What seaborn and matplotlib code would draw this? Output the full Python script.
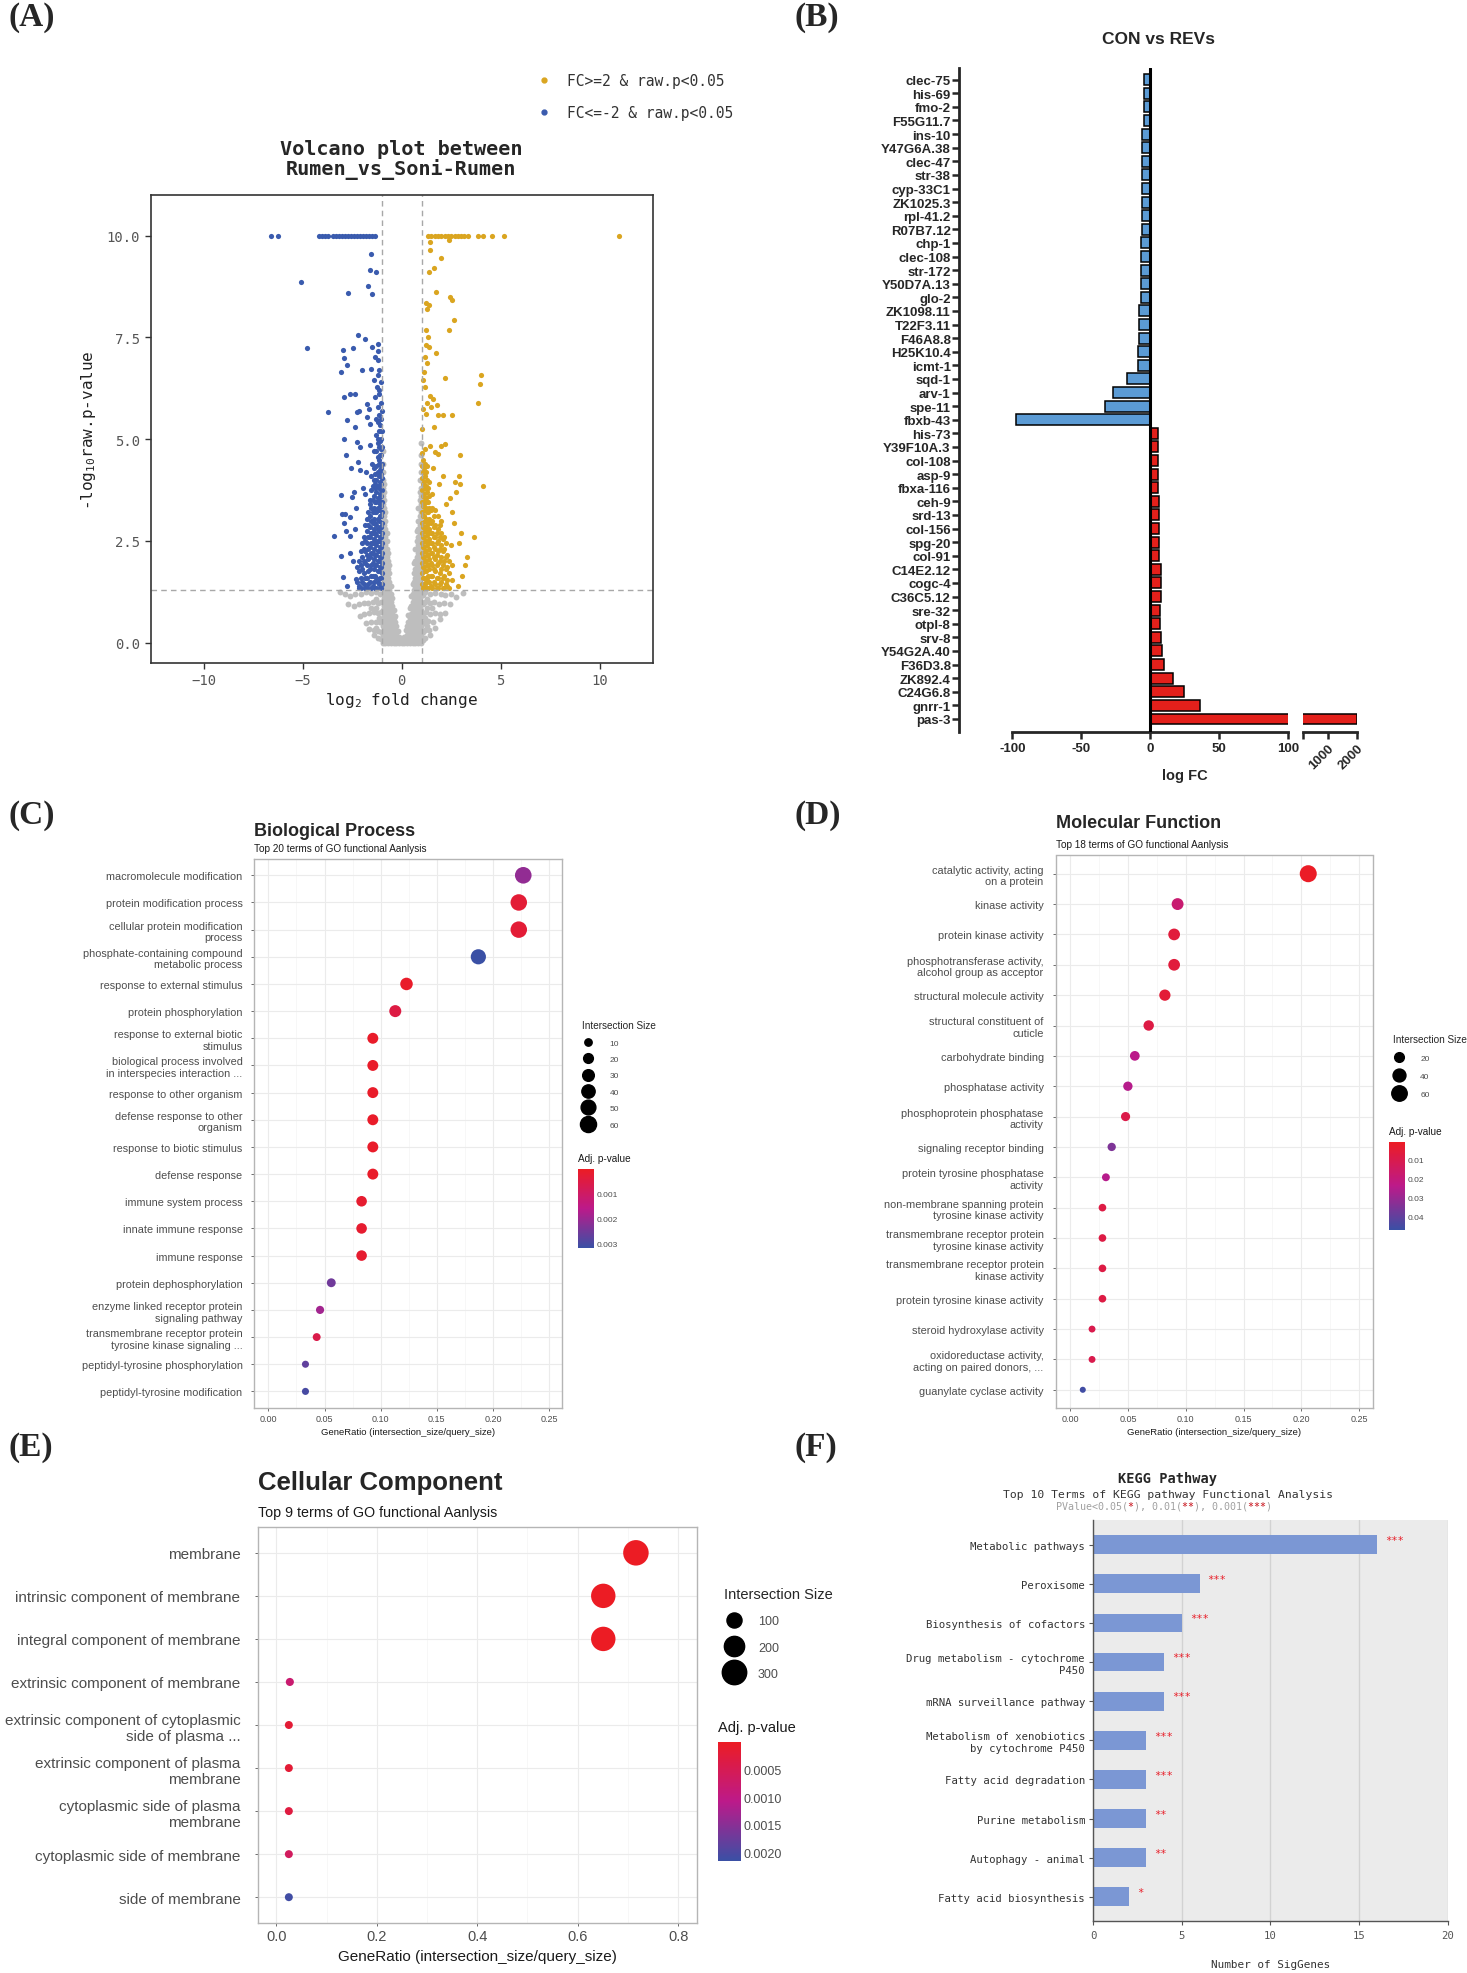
import numpy as np
import pandas as pd
import seaborn as sns
from matplotlib import pyplot as plt
from matplotlib.colors import LinearSegmentedColormap, Normalize
from matplotlib.cm import ScalarMappable
from matplotlib.lines import Line2D

# ---------------- (A) volcano plot ----------------
# points capped at -log10 p = 10
blue_top = [-6.6, -6.25, -4.2, -4.05, -3.9, -3.75, -3.45, -3.3, -3.15, -3.0, -2.85,
            -2.7, -2.55, -2.4, -2.25, -2.1, -1.95, -1.8, -1.65, -1.5, -1.35]
orange_top = [1.32, 1.49, 1.66, 1.83, 2.0, 2.17, 2.34, 2.5, 2.67, 2.84, 3.0, 3.17,
              3.34, 3.85, 4.1, 4.57, 5.16, 11.0]

blue_scatter = [(-1.57, 9.55), (-1.6, 9.15), (-1.32, 9.11), (-5.09, 8.86), (-1.69, 8.77),
                (-2.7, 8.58), (-1.51, 8.56), (-2.23, 7.57), (-1.86, 7.45), (-4.8, 7.24),
                (-2.95, 7.2), (-2.46, 7.24), (-1.21, 7.34), (-1.51, 7.27), (-1.18, 7.17),
                (-2.92, 7.0), (-2.75, 6.83), (-3.07, 6.64), (-1.99, 6.71), (-1.35, 7.02),
                (-1.21, 6.94), (-1.55, 6.72), (-1.18, 6.57), (-1.4, 6.46), (-1.27, 6.28),
                (-1.13, 6.2), (-2.9, 6.03), (-2.64, 6.11), (-2.36, 6.11), (-3.74, 5.68),
                (-2.25, 5.66), (-2.15, 5.7), (-1.78, 5.87), (-1.66, 5.75), (-1.35, 6.03),
                (-1.21, 5.79), (-2.78, 5.46), (-2.36, 5.3), (-1.78, 5.54), (-1.6, 5.38),
                (-1.18, 5.42), (-1.06, 5.21), (-2.92, 5.0), (-2.25, 4.92), (-2.12, 4.8),
                (-2.83, 4.61), (-1.62, 4.85), (-1.4, 4.7), (-1.2, 5.0), (-1.05, 4.75),
                (-2.55, 4.28), (-2.2, 4.45), (-2.12, 4.25), (-1.8, 4.2), (-1.5, 4.4),
                (-1.15, 4.5), (-1.03, 4.15), (-3.07, 3.62), (-2.52, 3.58), (-2.4, 3.7),
                (-1.95, 3.8), (-1.88, 3.65), (-1.62, 3.5), (-1.37, 3.9), (-1.05, 3.75),
                (-3.0, 3.16), (-2.85, 3.16), (-2.64, 3.08), (-2.3, 3.32), (-2.92, 2.93),
                (-2.8, 2.75), (-2.6, 2.63), (-3.43, 2.61), (-2.36, 2.79), (-3.07, 2.12),
                (-2.6, 2.21), (-2.45, 2.01), (-2.95, 1.62), (-2.78, 1.38), (-2.3, 1.56),
                (-2.18, 1.4)]
blue_cols = {
    -1.01: [1.45, 1.7, 1.95, 2.2, 2.45, 2.7, 2.95, 3.2, 3.45, 3.75, 4.05, 4.4, 4.8, 5.2, 5.7],
    -1.05: [1.35, 1.6, 1.85, 2.1, 2.35, 2.6, 2.85, 3.1, 3.35, 3.6, 3.9, 4.3, 4.6, 5.0, 5.5, 5.9, 6.4],
    -1.1: [1.35, 1.6, 1.85, 2.1, 2.35, 2.6, 2.85, 3.1, 3.4, 3.65, 3.95, 4.25, 4.6, 4.95, 5.35],
    -1.15: [1.45, 1.75, 2.0, 2.25, 2.5, 2.75, 3.0, 3.25, 3.5, 3.8, 4.1, 4.4, 4.8, 5.2, 5.6, 6.1, 6.7],
    -1.22: [1.5, 1.75, 2.0, 2.25, 2.5, 2.8, 3.05, 3.3, 3.55, 3.85, 4.2, 4.55, 4.9],
    -1.28: [1.35, 1.6, 1.9, 2.15, 2.4, 2.65, 2.9, 3.2, 3.45, 3.7, 4.0, 4.35, 4.7, 5.1, 5.5],
    -1.34: [1.35, 1.65, 1.9, 2.15, 2.45, 2.7, 2.95, 3.2, 3.45, 3.8, 4.15],
    -1.4: [1.5, 1.8, 2.05, 2.3, 2.55, 2.8, 3.05, 3.3, 3.6, 4.0, 4.3],
    -1.47: [1.4, 1.65, 1.95, 2.2, 2.45, 2.7, 2.95, 3.2, 3.5, 3.85],
    -1.55: [1.35, 1.65, 1.9, 2.2, 2.45, 2.7, 3.0, 3.3, 3.75, 4.1],
    -1.62: [1.5, 1.8, 2.1, 2.35, 2.6, 2.85, 3.1, 3.4],
    -1.7: [1.45, 1.75, 2.05, 2.3, 2.6, 2.9, 3.2],
    -1.78: [1.35, 1.6, 1.9, 2.15, 2.45, 2.75, 3.05],
    -1.85: [1.35, 1.6, 1.95, 2.25, 2.5, 2.9],
    -1.92: [1.45, 1.7, 2.0, 2.3, 2.6],
    -2.0: [1.5, 1.8, 2.1, 2.45],
    -2.08: [1.35, 1.6, 1.9, 2.25],
    -2.15: [1.35, 1.75, 2.0],
    -2.25: [1.5, 1.85],
}

orange_scatter = [(2.38, 9.9), (1.41, 9.84), (1.41, 9.64), (1.99, 9.46), (1.36, 9.11),
                  (1.61, 9.21), (1.71, 8.62), (2.42, 8.5), (2.53, 8.41), (1.24, 8.35),
                  (1.36, 8.29), (1.29, 8.21), (2.62, 7.92), (2.38, 7.69), (1.24, 7.68),
                  (1.32, 7.51), (1.24, 7.31), (1.36, 7.27), (1.15, 7.02), (1.29, 6.86),
                  (1.12, 6.65), (1.07, 6.45), (1.15, 6.28), (1.71, 7.12), (2.17, 6.5),
                  (4.02, 6.58), (3.97, 6.35), (3.85, 5.9), (1.41, 6.05), (1.57, 5.98),
                  (1.29, 5.9), (1.07, 5.75), (1.24, 5.62), (1.49, 5.8), (1.78, 5.85),
                  (1.83, 5.6), (2.08, 5.6), (2.55, 5.6), (1.63, 5.31), (1.02, 5.26),
                  (1.44, 4.84), (1.96, 4.84), (2.17, 4.88), (1.69, 4.68), (1.83, 4.64),
                  (2.92, 4.61), (4.1, 3.86), (2.9, 4.1), (2.95, 3.9), (2.7, 3.95),
                  (2.75, 3.7), (3.65, 2.6), (2.98, 2.7), (2.5, 2.4), (2.87, 2.45),
                  (3.28, 2.1), (3.22, 1.9), (3.05, 1.65), (2.3, 1.4), (2.83, 1.4),
                  (2.62, 2.95), (2.45, 3.55), (2.55, 3.2), (2.25, 3.4), (1.9, 3.9),
                  (2.1, 4.1), (1.6, 4.3)]
orange_cols = {
    1.01: [1.45, 1.7, 1.95, 2.2, 2.45, 2.7, 2.95, 3.2, 3.45, 3.75, 4.05, 4.35, 4.65],
    1.05: [1.35, 1.6, 1.85, 2.1, 2.35, 2.6, 2.85, 3.1, 3.35, 3.6, 3.9, 4.2, 4.5],
    1.1: [1.35, 1.6, 1.85, 2.1, 2.35, 2.6, 2.85, 3.1, 3.4, 3.65, 3.95, 4.3],
    1.15: [1.45, 1.75, 2.0, 2.25, 2.5, 2.75, 3.0, 3.25, 3.5, 3.8, 4.1, 4.4, 4.75],
    1.22: [1.5, 1.75, 2.0, 2.25, 2.5, 2.8, 3.05, 3.3, 3.55, 3.85, 4.2],
    1.28: [1.35, 1.6, 1.9, 2.15, 2.4, 2.65, 2.9, 3.2, 3.45, 3.7, 4.0, 4.35],
    1.34: [1.35, 1.65, 1.9, 2.15, 2.45, 2.7, 2.95, 3.2, 3.45, 3.8],
    1.4: [1.5, 1.8, 2.05, 2.3, 2.55, 2.8, 3.05, 3.3, 3.6, 3.95],
    1.47: [1.4, 1.65, 1.95, 2.2, 2.45, 2.7, 2.95, 3.25],
    1.55: [1.35, 1.65, 1.9, 2.2, 2.45, 2.7, 3.0, 3.3, 3.65],
    1.62: [1.5, 1.8, 2.1, 2.35, 2.6, 2.85, 3.1],
    1.7: [1.45, 1.75, 2.05, 2.3, 2.6, 2.9, 3.25],
    1.78: [1.35, 1.6, 1.9, 2.15, 2.45, 2.7],
    1.85: [1.35, 1.6, 1.95, 2.25, 2.5, 2.8, 3.1],
    1.92: [1.45, 1.7, 2.0, 2.3, 2.6, 2.9],
    2.0: [1.5, 1.8, 2.1, 2.4, 2.7, 3.0],
    2.08: [1.35, 1.6, 1.9, 2.25, 2.55],
    2.15: [1.35, 1.65, 2.0, 2.3, 2.6],
    2.22: [1.45, 1.8, 2.1, 2.45],
    2.3: [1.55, 1.85, 2.15],
    2.4: [1.35, 1.7, 2.0],
    2.55: [1.55, 1.9],
}

gray_scatter = [(-3.1, 1.25), (-2.85, 1.2), (-2.6, 1.15), (-2.35, 1.2), (-2.05, 1.19),
                (-1.8, 1.25), (-1.55, 1.22), (-1.3, 1.25), (-1.12, 1.2), (-2.7, 0.95),
                (-2.4, 0.9), (-2.15, 0.95), (-1.9, 0.98), (-1.69, 0.98), (-1.45, 1.0),
                (-1.2, 0.98), (-1.05, 1.0), (-2.12, 0.65), (-1.9, 0.7), (-1.65, 0.72),
                (-1.42, 0.75), (-1.2, 0.72), (-1.05, 0.75), (-1.81, 0.49), (-1.55, 0.5),
                (-1.3, 0.5), (-1.1, 0.5), (-1.66, 0.33), (-1.4, 0.3), (-1.2, 0.28),
                (-1.05, 0.25), (-1.41, 0.18), (-1.2, 0.12), (-1.05, 0.08),
                (-1.3, 1.08), (-1.55, 0.85), (-1.3, 0.85), (-1.15, 0.6), (-1.3, 0.35),
                (3.1, 1.22), (2.75, 1.13), (2.5, 1.2), (2.2, 1.18), (1.99, 1.19),
                (1.7, 1.22), (1.45, 1.2), (1.2, 1.25), (1.08, 1.18), (2.42, 0.94),
                (2.15, 0.97), (1.9, 0.95), (1.65, 1.0), (1.42, 0.97), (1.2, 1.0),
                (1.05, 0.95), (2.17, 0.74), (1.92, 0.7), (1.68, 0.72), (1.45, 0.7),
                (1.22, 0.75), (1.05, 0.7), (1.91, 0.57), (1.6, 0.5), (1.35, 0.52),
                (1.12, 0.48), (1.66, 0.37), (1.4, 0.3), (1.2, 0.3), (1.05, 0.25),
                (1.41, 0.2), (1.2, 0.12), (1.05, 0.07),
                (1.3, 1.08), (1.55, 0.85), (1.3, 0.85), (1.15, 0.6), (1.3, 0.4)]
gray_cols = {
    -0.96: [0.0, 0.2, 0.4, 0.6, 0.8, 1.0, 1.2, 1.4, 1.6, 1.8, 2.0, 2.2, 2.4, 2.6, 2.8,
            3.0, 3.2, 3.4, 3.6, 3.8, 4.0, 4.2, 4.4, 4.7],
    -0.9: [0.1, 0.3, 0.5, 0.7, 0.9, 1.1, 1.3, 1.5, 1.7, 1.9, 2.1, 2.3, 2.5, 2.7, 2.9,
           3.1, 3.3, 3.5, 3.7, 3.9],
    -0.83: [0.0, 0.2, 0.4, 0.6, 0.8, 1.0, 1.2, 1.4, 1.6, 1.8, 2.0, 2.2, 2.4, 2.6, 2.8, 3.0, 3.2],
    -0.76: [0.1, 0.3, 0.5, 0.7, 0.9, 1.1, 1.3, 1.5, 1.7, 1.9, 2.1, 2.3, 2.5, 2.7],
    -0.69: [0.0, 0.2, 0.4, 0.6, 0.8, 1.0, 1.2, 1.4, 1.6, 1.8, 2.0, 2.2],
    -0.62: [0.1, 0.3, 0.5, 0.7, 0.9, 1.1, 1.3, 1.5, 1.7, 1.9],
    -0.55: [0.0, 0.2, 0.4, 0.6, 0.8, 1.0, 1.2, 1.4],
    -0.48: [0.1, 0.3, 0.5, 0.7, 0.9, 1.1],
    -0.41: [0.0, 0.2, 0.4, 0.6, 0.8],
    -0.34: [0.1, 0.3, 0.5, 0.65],
    -0.27: [0.0, 0.2, 0.4],
    -0.2: [0.1, 0.28],
    -0.13: [0.0, 0.15],
    -0.06: [0.05],
    0.0: [0.0],
    0.06: [0.05],
    0.13: [0.0, 0.15],
    0.2: [0.1, 0.3],
    0.27: [0.0, 0.2, 0.42],
    0.34: [0.1, 0.3, 0.5, 0.68],
    0.41: [0.0, 0.2, 0.4, 0.6, 0.85],
    0.48: [0.1, 0.3, 0.5, 0.7, 0.9, 1.15],
    0.55: [0.0, 0.2, 0.4, 0.6, 0.8, 1.0, 1.2, 1.45],
    0.62: [0.1, 0.3, 0.5, 0.7, 0.9, 1.1, 1.3, 1.5, 1.7, 1.95],
    0.69: [0.0, 0.2, 0.4, 0.6, 0.8, 1.0, 1.2, 1.4, 1.6, 1.8, 2.0, 2.3],
    0.76: [0.1, 0.3, 0.5, 0.7, 0.9, 1.1, 1.3, 1.5, 1.7, 1.9, 2.1, 2.3, 2.5, 2.75],
    0.83: [0.0, 0.2, 0.4, 0.6, 0.8, 1.0, 1.2, 1.4, 1.6, 1.8, 2.0, 2.2, 2.4, 2.6, 2.8, 3.0, 3.3],
    0.9: [0.1, 0.3, 0.5, 0.7, 0.9, 1.1, 1.3, 1.5, 1.7, 1.9, 2.1, 2.3, 2.5, 2.7, 2.9,
          3.1, 3.3, 3.5, 3.7, 4.0],
    0.96: [0.0, 0.2, 0.4, 0.6, 0.8, 1.0, 1.2, 1.4, 1.6, 1.8, 2.0, 2.2, 2.4, 2.6, 2.8,
           3.0, 3.2, 3.4, 3.6, 3.8, 4.0, 4.2, 4.4, 4.6, 4.9],
}

# ---------------- (B) CON vs REVs ----------------
genes_down = ['clec-75', 'his-69', 'fmo-2', 'F55G11.7', 'ins-10', 'Y47G6A.38', 'clec-47',
              'str-38', 'cyp-33C1', 'ZK1025.3', 'rpl-41.2', 'R07B7.12', 'chp-1', 'clec-108',
              'str-172', 'Y50D7A.13', 'glo-2', 'ZK1098.11', 'T22F3.11', 'F46A8.8',
              'H25K10.4', 'icmt-1', 'sqd-1', 'arv-1', 'spe-11', 'fbxb-43']
fc_down = [-4.8, -4.8, -4.8, -4.8, -6, -6, -6, -6, -6, -6, -6, -6, -7, -7, -7, -7, -7,
           -8, -8, -8, -9.2, -9.2, -17, -27, -32.7, -97.3]
genes_up = ['his-73', 'Y39F10A.3', 'col-108', 'asp-9', 'fbxa-116', 'ceh-9', 'srd-13',
            'col-156', 'spg-20', 'col-91', 'C14E2.12', 'cogc-4', 'C36C5.12', 'sre-32',
            'otpl-8', 'srv-8', 'Y54G2A.40', 'F36D3.8', 'ZK892.4', 'C24G6.8', 'gnrr-1', 'pas-3']
fc_up = [5.3, 5.3, 5.3, 5.5, 5.5, 6.5, 6.5, 6.5, 6.3, 6.5, 7.7, 7.7, 7.5, 7.3, 7.3, 7.5,
         8.7, 10, 16.5, 24.5, 35.8, 2000]

# ---------------- (C) Biological Process ----------------
bp_terms = ['macromolecule modification', 'protein modification process',
            'cellular protein modification\nprocess', 'phosphate-containing compound\nmetabolic process',
            'response to external stimulus', 'protein phosphorylation',
            'response to external biotic\nstimulus', 'biological process involved\nin interspecies interaction ...',
            'response to other organism', 'defense response to other\norganism',
            'response to biotic stimulus', 'defense response', 'immune system process',
            'innate immune response', 'immune response', 'protein dephosphorylation',
            'enzyme linked receptor protein\nsignaling pathway',
            'transmembrane receptor protein\ntyrosine kinase signaling ...',
            'peptidyl-tyrosine phosphorylation', 'peptidyl-tyrosine modification']
bp_ratio = [0.227, 0.223, 0.223, 0.187, 0.123, 0.113, 0.093, 0.093, 0.093, 0.093, 0.093,
            0.093, 0.083, 0.083, 0.083, 0.056, 0.046, 0.043, 0.033, 0.033]
bp_size = [64, 63, 63, 53, 35, 32, 26, 26, 26, 26, 26, 26, 24, 24, 24, 16, 13, 12, 9, 9]
bp_padj = [0.0021, 0.0003, 0.0003, 0.0032, 0.0001, 0.0005, 0.0001, 0.0001, 0.0001, 0.0001,
           0.0001, 0.0001, 0.0002, 0.0002, 0.0002, 0.0025, 0.0019, 0.0006, 0.0027, 0.0030]

# ---------------- (D) Molecular Function ----------------
mf_terms = ['catalytic activity, acting\non a protein', 'kinase activity', 'protein kinase activity',
            'phosphotransferase activity,\nalcohol group as acceptor', 'structural molecule activity',
            'structural constituent of\ncuticle', 'carbohydrate binding', 'phosphatase activity',
            'phosphoprotein phosphatase\nactivity', 'signaling receptor binding',
            'protein tyrosine phosphatase\nactivity', 'non-membrane spanning protein\ntyrosine kinase activity',
            'transmembrane receptor protein\ntyrosine kinase activity',
            'transmembrane receptor protein\nkinase activity', 'protein tyrosine kinase activity',
            'steroid hydroxylase activity', 'oxidoreductase activity,\nacting on paired donors, ...',
            'guanylate cyclase activity']
mf_ratio = [0.206, 0.093, 0.090, 0.090, 0.082, 0.068, 0.056, 0.050, 0.048, 0.036, 0.031,
            0.028, 0.028, 0.028, 0.028, 0.019, 0.019, 0.011]
mf_size = [74, 33, 32, 32, 29, 24, 20, 18, 17, 13, 11, 10, 10, 10, 10, 7, 7, 4]
mf_padj = [0.001, 0.018, 0.006, 0.006, 0.005, 0.008, 0.024, 0.025, 0.009, 0.035, 0.025,
           0.008, 0.008, 0.008, 0.008, 0.010, 0.010, 0.046]

# ---------------- (E) Cellular Component ----------------
cc_terms = ['membrane', 'intrinsic component of membrane', 'integral component of membrane',
            'extrinsic component of membrane', 'extrinsic component of cytoplasmic\nside of plasma ...',
            'extrinsic component of plasma\nmembrane', 'cytoplasmic side of plasma\nmembrane',
            'cytoplasmic side of membrane', 'side of membrane']
cc_ratio = [0.716, 0.651, 0.651, 0.027, 0.025, 0.025, 0.025, 0.025, 0.025]
cc_size = [329, 300, 300, 12, 11, 11, 11, 11, 11]
cc_padj = [1e-8, 1e-7, 1e-7, 0.0008, 0.0002, 0.0002, 0.0003, 0.0006, 0.0021]

# ---------------- (F) KEGG ----------------
kegg_terms = ['Metabolic pathways', 'Peroxisome', 'Biosynthesis of cofactors',
              'Drug metabolism - cytochrome\nP450', 'mRNA surveillance pathway',
              'Metabolism of xenobiotics\nby cytochrome P450', 'Fatty acid degradation',
              'Purine metabolism', 'Autophagy - animal', 'Fatty acid biosynthesis']
kegg_count = [16, 6, 5, 4, 4, 3, 3, 3, 3, 2]
kegg_stars = ['***', '***', '***', '***', '***', '***', '***', '**', '**', '*']

# ------------------------------------------------------------------
sns.set_theme(style='ticks')
plt.rcParams['font.family'] = ['Liberation Sans', 'DejaVu Sans']
plt.rcParams['mathtext.fontset'] = 'custom'
plt.rcParams['mathtext.rm'] = 'DejaVu Sans Mono'
plt.rcParams['mathtext.it'] = 'DejaVu Sans Mono'

W, H = 1467, 1974
fig = plt.figure(figsize=(W / 100, H / 100), dpi=100)
fig.patch.set_facecolor('white')


def fx(x):
    return x / W


def fy(y):
    return 1 - y / H


def px_axes(x0, y0, x1, y1):
    return fig.add_axes([fx(x0), fy(y1), (x1 - x0) / W, (y1 - y0) / H])


MONO = 'DejaVu Sans Mono'

# panel letters
for lab, (x, y) in {'(A)': (8, 2), '(B)': (794, 2), '(C)': (8, 800), '(D)': (794, 800),
                    '(E)': (8, 1432), '(F)': (794, 1432)}.items():
    fig.text(fx(x), fy(y), lab, family='Liberation Serif', weight='bold', fontsize=24,
             va='top', ha='left')


# ---------------- (A) ----------------
def expand(top, pairs, cols):
    xs = list(top) + [p[0] for p in pairs]
    ys = [10.0] * len(top) + [p[1] for p in pairs]
    for x, col in cols.items():
        xs += [x] * len(col)
        ys += col
    return pd.DataFrame({'fc': xs, 'p': ys})


gray_df = expand([], gray_scatter, gray_cols)
blue_df = expand(blue_top, blue_scatter, blue_cols)
orange_df = expand(orange_top, orange_scatter, orange_cols)

ORANGE, BLUE = '#DAA520', '#3A5BAE'
ax_a = px_axes(150.5, 196, 653, 664)
sns.scatterplot(data=gray_df, x='fc', y='p', color='#bebebe', s=18, linewidth=0, ax=ax_a)
sns.scatterplot(data=blue_df, x='fc', y='p', color=BLUE, s=14, linewidth=0, ax=ax_a)
sns.scatterplot(data=orange_df, x='fc', y='p', color=ORANGE, s=14, linewidth=0, ax=ax_a)
for v in (-1, 1):
    ax_a.axvline(v, ls=(0, (4, 3)), color='#a8a8a8', lw=1)
ax_a.axhline(1.3, ls=(0, (4, 3)), color='#a8a8a8', lw=1)
ax_a.set_xlim(-12.7, 12.7)
ax_a.set_ylim(-0.5, 11.0)
ax_a.set_xticks([-10, -5, 0, 5, 10])
ax_a.set_yticks([0, 2.5, 5, 7.5, 10])
ax_a.set_yticklabels(['0.0', '2.5', '5.0', '7.5', '10.0'])
for t in ax_a.get_xticklabels() + ax_a.get_yticklabels():
    t.set_family(MONO)
ax_a.tick_params(labelsize=10, labelcolor='#555555', length=4, width=1, color='#333333')
for sp in ax_a.spines.values():
    sp.set_color('#333333')
    sp.set_linewidth(1.2)
ax_a.set_xlabel('log$_2$ fold change', family=MONO, fontsize=11.5, color='#222222', labelpad=2)
ax_a.set_ylabel('-log$_{10}$raw.p-value', family=MONO, fontsize=11.5, color='#222222', labelpad=6)
fig.text(fx(401), fy(160), 'Volcano plot between\nRumen_vs_Soni-Rumen', family=MONO,
         weight='bold', fontsize=14.5, ha='center', va='center', linespacing=1.05)
handles = [Line2D([], [], ls='', marker='o', color=ORANGE, ms=3.5),
           Line2D([], [], ls='', marker='o', color=BLUE, ms=3.5)]
ax_a.legend(handles, ['FC>=2 & raw.p<0.05', 'FC<=-2 & raw.p<0.05'], loc='upper left',
            bbox_to_anchor=(fx(531), fy(67)), bbox_transform=fig.transFigure, frameon=False,
            prop={'family': MONO, 'size': 10.5}, borderpad=0, handlelength=0.8,
            handletextpad=1.2, labelspacing=1.15, labelcolor='#333333')

# ---------------- (B) ----------------
b_df = pd.DataFrame({'gene': genes_down + genes_up, 'fc': fc_down + fc_up,
                     'dir': ['down'] * len(genes_down) + ['up'] * len(genes_up)})
B_BLUE, B_RED = '#5B9BD5', '#E3201B'
ax_b1 = px_axes(959, 69, 1288.3, 733)
ax_b2 = px_axes(1303, 69, 1357, 733)
for ax in (ax_b1, ax_b2):
    sns.barplot(data=b_df, x='fc', y='gene', hue='dir', palette={'down': B_BLUE, 'up': B_RED},
                dodge=False, width=0.8, edgecolor='black', linewidth=1.1, saturation=1,
                legend=False, ax=ax)
    ax.set_ylim(47.96, -0.86)
    ax.set_xlabel('')
    ax.set_ylabel('')
    ax.spines['top'].set_visible(False)
    ax.spines['right'].set_visible(False)
    ax.spines['bottom'].set_linewidth(2)
    ax.spines['left'].set_linewidth(2)
    ax.tick_params(axis='x', length=5, width=1.8, pad=2, labelsize=9.5)

ax_b1.set_xlim(-138.6, 100)
ax_b1.spines['bottom'].set_bounds(-100, 100)
ax_b1.set_xticks([-100, -50, 0, 50, 100])
ax_b1.set_xticklabels(['-100', '-50', '0', '50', '100'], fontweight='bold', fontsize=9.5)
ax_b1.axvline(0, color='black', lw=2.2, zorder=5)
ax_b1.tick_params(axis='y', length=5, width=1.8, pad=1, labelsize=9.5)
for t in ax_b1.get_yticklabels():
    t.set_fontweight('bold')

ax_b2.set_xlim(140, 2005)
ax_b2.spines['left'].set_visible(False)
ax_b2.spines['bottom'].set_bounds(140, 2000)
ax_b2.set_yticks([])
ax_b2.set_xticks([1000, 2000])
ax_b2.set_xticklabels(['1000', '2000'], rotation=45, ha='right', rotation_mode='anchor',
                      fontweight='bold', fontsize=9.5)
ax_b2.set_xticks([140], minor=True)
ax_b2.tick_params(axis='x', which='minor', length=5, width=1.8)

fig.text(fx(1158), fy(40), 'CON vs REVs', weight='bold', fontsize=12.5, ha='center', va='center')
fig.text(fx(1185), fy(776), 'log FC', weight='bold', fontsize=10.5, ha='center', va='center')

# ---------------- GO dot panels (C, D, E) ----------------
go_cmap = LinearSegmentedColormap.from_list('go', ['#ec1c24', '#bc1a8a', '#3a50a5'])


def dot_panel(box, terms, ratio, size, padj, xlim, xticks, xticklabels, snorm, srange,
              pnorm, cticks, cticklabels, leg_vals, leg_xy, leg_space, cbox, title, title_y,
              subtitle, sub_y, fs):
    ax = px_axes(*box)
    df = pd.DataFrame({'ratio': ratio, 'pos': list(range(len(terms))), 'size': size, 'padj': padj})
    sns.scatterplot(data=df, x='ratio', y='pos', hue='padj', palette=go_cmap, hue_norm=pnorm,
                    size='size', sizes=srange, size_norm=snorm, linewidth=0, legend=False,
                    ax=ax, zorder=3)
    ax.set_ylim(len(terms) - 0.4, -0.6)
    ax.set_yticks(range(len(terms)))
    ax.set_yticklabels(terms, fontsize=fs['lab'], color='#4d4d4d')
    ax.set_xlim(*xlim)
    ax.set_xticks(xticks)
    ax.set_xticklabels(xticklabels, fontsize=fs['tick'], color='#4d4d4d')
    step = xticks[1] - xticks[0]
    ax.set_xticks([t + step / 2 for t in xticks[:-1]], minor=True)
    ax.grid(which='major', color='#ebebeb', lw=0.8)
    ax.grid(which='minor', axis='x', color='#f4f4f4', lw=0.5)
    ax.set_axisbelow(True)
    for sp in ax.spines.values():
        sp.set_visible(True)
        sp.set_color('#b5b5b5')
        sp.set_linewidth(1.0)
    ax.tick_params(which='major', length=2.5, width=0.5, color='#333333', pad=2)
    ax.tick_params(axis='y', pad=fs['ypad'])
    ax.tick_params(which='minor', length=0)
    ax.set_ylabel('')
    ax.set_xlabel('GeneRatio (intersection_size/query_size)', fontsize=fs['xlab'],
                  color='#1a1a1a', labelpad=fs['xpad'])
    fig.text(fx(box[0]), fy(title_y), title, weight='bold', fontsize=fs['title'], va='center')
    fig.text(fx(box[0]), fy(sub_y), subtitle, fontsize=fs['sub'], va='center', color='#1a1a1a')

    # size legend
    def s_of(v):
        return srange[0] + (v - snorm[0]) / (snorm[1] - snorm[0]) * (srange[1] - srange[0])
    hs = [Line2D([], [], ls='', marker='o', color='black', markersize=np.sqrt(s_of(v)))
          for v in leg_vals]
    leg = fig.legend(hs, [str(v) for v in leg_vals], loc='upper left',
                     bbox_to_anchor=(fx(leg_xy[0]), fy(leg_xy[1])), frameon=False,
                     title='Intersection Size', title_fontsize=fs['legt'],
                     prop={'size': fs['leg']}, borderpad=0, handlelength=1.5,
                     handletextpad=fs['htp'], labelspacing=leg_space, alignment='left')
    for t in leg.get_texts():
        t.set_color('#4d4d4d')

    # colour bar
    cax = px_axes(*cbox)
    sm = ScalarMappable(norm=Normalize(*pnorm), cmap=go_cmap)
    cb = fig.colorbar(sm, cax=cax)
    cb.set_ticks(cticks)
    cb.set_ticklabels(cticklabels)
    cb.outline.set_visible(False)
    cax.invert_yaxis()
    cax.tick_params(length=0, labelsize=fs['leg'], labelcolor='#4d4d4d', pad=2)
    fig.text(fx(cbox[0]), fy(cbox[1] - fs['cbt']), 'Adj. p-value', fontsize=fs['legt'],
             va='center', color='#1a1a1a')
    return ax


fs_c = {'lab': 7.8, 'tick': 6.5, 'xlab': 6.8, 'xpad': 3, 'ypad': 5.5, 'title': 13, 'sub': 7.2,
        'legt': 7.2, 'leg': 6, 'htp': 1.8, 'cbt': 11}
dot_panel((253.7, 860, 562, 1408.7), bp_terms, bp_ratio, bp_size, bp_padj,
          (-0.0131, 0.2615), [0, 0.05, 0.10, 0.15, 0.20, 0.25],
          ['0.00', '0.05', '0.10', '0.15', '0.20', '0.25'], (9, 64), (26, 143),
          (0.00001, 0.00316), [0.001, 0.002, 0.003], ['0.001', '0.002', '0.003'],
          [10, 20, 30, 40, 50, 60], (578, 1017), 1.03, (578, 1170, 594, 1249),
          'Biological Process', 831, 'Top 20 terms of GO functional Aanlysis', 849, fs_c)

fs_d = dict(fs_c, lab=7.9, ypad=6)
dot_panel((1055.5, 856.5, 1373, 1409), mf_terms, mf_ratio, mf_size, mf_padj,
          (-0.0126, 0.262), [0, 0.05, 0.10, 0.15, 0.20, 0.25],
          ['0.00', '0.05', '0.10', '0.15', '0.20', '0.25'], (4, 74), (19, 150),
          (0.0005, 0.0474), [0.01, 0.02, 0.03, 0.04], ['0.01', '0.02', '0.03', '0.04'],
          [20, 40, 60], (1388.6, 1031), 1.22, (1388.6, 1143, 1405, 1231),
          'Molecular Function', 824, 'Top 18 terms of GO functional Aanlysis', 845, fs_d)

fs_e = {'lab': 11, 'tick': 10.5, 'xlab': 11, 'xpad': 4, 'ypad': 10, 'title': 18.5, 'sub': 10.3,
        'legt': 10.5, 'leg': 9, 'htp': 1.2, 'cbt': 15}
dot_panel((257.8, 1528, 696.7, 1924), cc_terms, cc_ratio, cc_size, cc_padj,
          (-0.0368, 0.837), [0, 0.2, 0.4, 0.6, 0.8], ['0.0', '0.2', '0.4', '0.6', '0.8'],
          (11, 329), (33, 337), (0, 0.00216), [0.0005, 0.0010, 0.0015, 0.0020],
          ['0.0005', '0.0010', '0.0015', '0.0020'], [100, 200, 300], (718, 1582), 1.13,
          (718.4, 1743, 741, 1862), 'Cellular Component', 1483,
          'Top 9 terms of GO functional Aanlysis', 1512.6, fs_e)

# ---------------- (F) KEGG bars ----------------
ax_f = px_axes(1093.3, 1521, 1447.5, 1922.4)
ax_f.set_facecolor('#ebebeb')
sns.barplot(x=kegg_count, y=kegg_terms, orient='h', color='#7b97d4', width=0.48,
            saturation=1, linewidth=0, ax=ax_f)
ax_f.set_ylim(9.63, -0.63)
ax_f.set_xlim(0, 20)
ax_f.set_xticks([0, 5, 10, 15, 20])
ax_f.grid(axis='x', color='#d2d2d2', lw=1)
ax_f.set_axisbelow(True)
for i, (v, st) in enumerate(zip(kegg_count, kegg_stars)):
    ax_f.text(v + 0.45, i - 0.12, st, color='#e8202a', fontsize=7.5, family=MONO,
              ha='left', va='center')
ax_f.spines['top'].set_visible(False)
ax_f.spines['right'].set_visible(False)
for k in ('left', 'bottom'):
    ax_f.spines[k].set_color('#555555')
    ax_f.spines[k].set_linewidth(1.0)
ax_f.tick_params(length=3, width=0.8, color='#555555', labelsize=7.7, pad=3)
for t in ax_f.get_xticklabels():
    t.set_family(MONO)
    t.set_color('#555555')
for t in ax_f.get_yticklabels():
    t.set_family(MONO)
    t.set_color('#333333')
ax_f.set_ylabel('')
ax_f.set_xlabel('Number of SigGenes', family=MONO, fontsize=7.9, color='#333333', labelpad=14)
fig.text(fx(1168), fy(1479), 'KEGG Pathway', family=MONO, weight='bold', fontsize=9.8,
         ha='center', va='center')
fig.text(fx(1168), fy(1495.5), 'Top 10 Terms of KEGG pathway Functional Analysis', family=MONO,
         fontsize=8.2, ha='center', va='center', color='#333333')
pv = 'PValue<0.05(*), 0.01(**), 0.001(***)'
fig.text(fx(1055.5), fy(1507), pv, family=MONO, fontsize=7.2, ha='left', va='center',
         color='#a0a0a0')
fig.text(fx(1055.5), fy(1507), ''.join(c if c == '*' else ' ' for c in pv), family=MONO,
         fontsize=7.2, ha='left', va='center', color='#e8202a')

fig.savefig('out.png', dpi=100, facecolor='white')
